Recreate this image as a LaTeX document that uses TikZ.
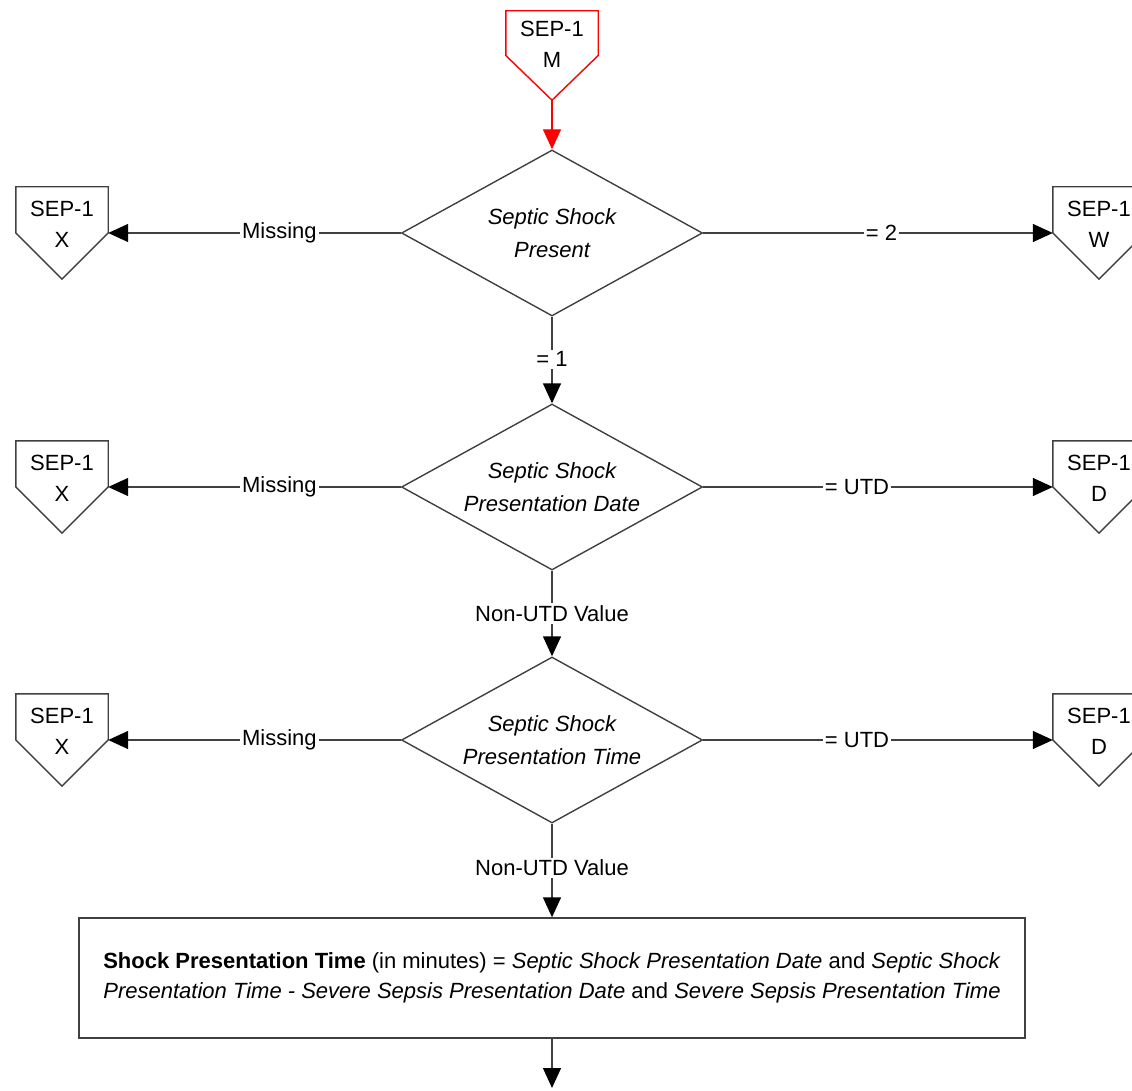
\documentclass[tikz,border=0pt]{standalone}
\usepackage{fontspec}
\setmainfont{Liberation Sans}
\usetikzlibrary{arrows.meta,shapes.geometric}
\definecolor{linegray}{HTML}{404040}
\definecolor{flowred}{HTML}{FF0000}
\begin{document}
\begin{tikzpicture}[x=1pt,y=-1pt,
  font=\fontsize{22}{32}\selectfont,
  line/.style={draw=linegray, line width=1.4pt},
  arr/.style={line, -{Triangle[length=20pt,width=18pt,color=black]}},
  redarr/.style={draw=flowred, line width=1.4pt, -{Triangle[length=20pt,width=18pt]}},
  offpage/.style={minimum width=92pt, minimum height=92pt, inner sep=0pt},
  offtext/.style={align=center, inner sep=0pt, font=\fontsize{22}{31}\selectfont},
  decision/.style={diamond, line, aspect=1.82, minimum width=301pt, minimum height=166pt,
    inner sep=0pt, align=center, font=\fontsize{22}{33}\selectfont\itshape},
  process/.style={rectangle, line, minimum width=946pt, minimum height=120pt,
    inner sep=0pt, align=center, font=\fontsize{22}{30}\selectfont},
  lbl/.style={fill=white, inner sep=2pt}
]
\useasboundingbox (0,0) rectangle (1132,1091);

% entry connector
\node[offpage, minimum height=89pt] (m) at (552,55.5) {};
\node[offtext] (mt) at ([yshift=11pt]m.center) {SEP-1\\M};

% decisions
\node[decision] (d1) at (552,233) {Septic Shock\\Present};
\node[decision] (d2) at (552,487) {Septic Shock\\Presentation Date};
\node[decision] (d3) at (552,740) {Septic Shock\\Presentation Time};

% off-page connectors on the left and right
\node[offpage] (xl1) at (62,233) {};
\node[offpage] (xl2) at (62,487) {};
\node[offpage] (xl3) at (62,740) {};
\node[offpage] (xr1) at (1099,233) {};
\node[offpage] (xr2) at (1099,487) {};
\node[offpage] (xr3) at (1099,740) {};
\node[offtext] (xl1t) at ([yshift=9pt]xl1.center) {SEP-1\\X};
\node[offtext] (xl2t) at ([yshift=9pt]xl2.center) {SEP-1\\X};
\node[offtext] (xl3t) at ([yshift=9pt]xl3.center) {SEP-1\\X};
\node[offtext] (xr1t) at ([yshift=9pt]xr1.center) {SEP-1\\W};
\node[offtext] (xr2t) at ([yshift=9pt]xr2.center) {SEP-1\\D};
\node[offtext] (xr3t) at ([yshift=9pt]xr3.center) {SEP-1\\D};

% pentagon outlines
\foreach \n/\c in {m/flowred, xl1/linegray, xl2/linegray, xl3/linegray,
                   xr1/linegray, xr2/linegray, xr3/linegray}
  \draw[draw=\c, line width=1.4pt, line join=miter]
    (\n.north west) -- (\n.north east) -- (\n.east) -- (\n.south) -- (\n.west) -- cycle;

% calculation box
\node[process] (calc) at (552,978)
  {\textbf{Shock Presentation Time} (in minutes) = \textit{Septic Shock Presentation Date} and \textit{Septic Shock}\\
   \textit{Presentation Time - Severe Sepsis Presentation Date} and \textit{Severe Sepsis Presentation Time}};
\coordinate (out) at (552,1088);

% connectors
\draw[redarr] (m.south) -- (d1.north);
\draw[arr] (d1.west) -- node[lbl, pos=0.415] {Missing} (xl1.east);
\draw[arr] (d1.east) -- node[lbl, pos=0.51] {= 2} (xr1.west);
\draw[arr] (d1.south) -- node[lbl, pos=0.49] {= 1} (d2.north);

\draw[arr] (d2.west) -- node[lbl, pos=0.415] {Missing} (xl2.east);
\draw[arr] (d2.east) -- node[lbl, pos=0.44] {= UTD} (xr2.west);
\draw[arr] (d2.south) -- node[lbl, pos=0.5] {Non-UTD Value} (d3.north);

\draw[arr] (d3.west) -- node[lbl, pos=0.415] {Missing} (xl3.east);
\draw[arr] (d3.east) -- node[lbl, pos=0.44] {= UTD} (xr3.west);
\draw[arr] (d3.south) -- node[lbl, pos=0.47] {Non-UTD Value} (calc.north);

\draw[arr] (calc.south) -- (out);
\end{tikzpicture}
\end{document}
